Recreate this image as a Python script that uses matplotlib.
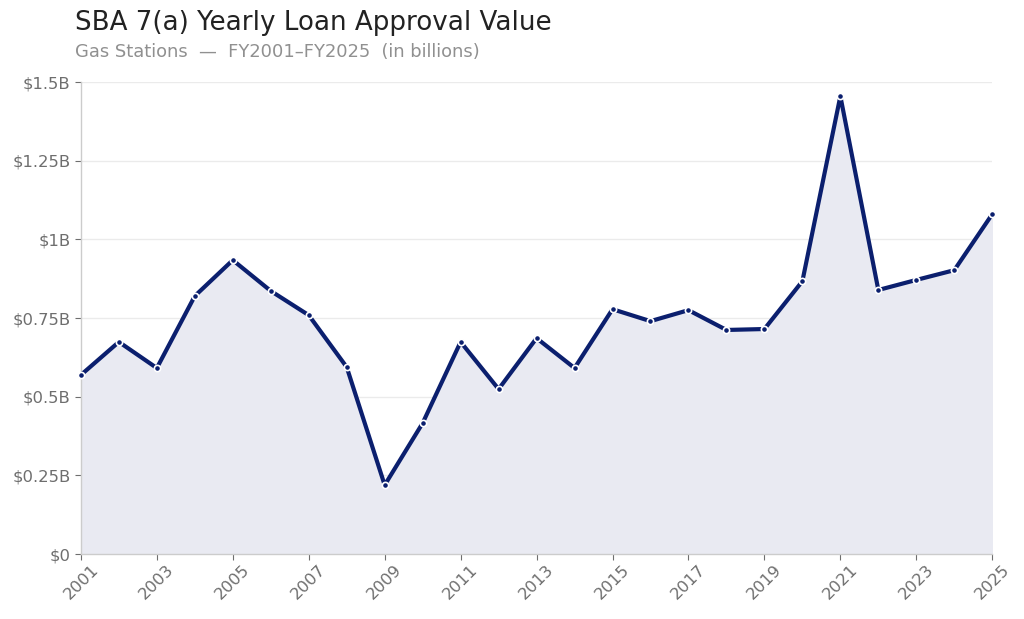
import matplotlib.pyplot as plt

# approval value per fiscal year, in billions of dollars
years = list(range(2001, 2026))
values = [0.569, 0.674, 0.591, 0.820, 0.934, 0.836, 0.759, 0.594, 0.219, 0.416,
          0.674, 0.524, 0.686, 0.591, 0.778, 0.740, 0.775, 0.712, 0.715, 0.867,
          1.455, 0.839, 0.871, 0.902, 1.080]

ytick_vals = [0, 0.25, 0.5, 0.75, 1.0, 1.25, 1.5]
ytick_labels = ["$0", "$0.25B", "$0.5B", "$0.75B", "$1B", "$1.25B", "$1.5B"]

navy = "#0b1f6e"

fig = plt.figure(figsize=(10.24, 6.19), dpi=100)
ax = fig.add_axes([0.079, 0.105, 0.89, 0.7625])

ax.fill_between(years, values, 0, color="#e9eaf2", zorder=1)
ax.plot(years, values, color=navy, lw=3, zorder=3,
        marker="o", markersize=4.5, markerfacecolor=navy,
        markeredgecolor="white", markeredgewidth=1.2, clip_on=False)

ax.set_xlim(2001, 2025)
ax.set_ylim(0, 1.5)
ax.set_xticks(years[::2])
ax.set_xticklabels([str(y) for y in years[::2]], rotation=45)
ax.set_yticks(ytick_vals)
ax.set_yticklabels(ytick_labels)

ax.grid(axis="y", color="#ebebeb", lw=1, zorder=0)
ax.set_axisbelow(True)
for s in ["top", "right"]:
    ax.spines[s].set_visible(False)
for s in ["left", "bottom"]:
    ax.spines[s].set_color("#cccccc")
    ax.spines[s].set_linewidth(1)
ax.tick_params(colors="#6e6e6e", labelsize=11.8, length=4)
ax.tick_params(axis="x", pad=2)

fig.text(0.073, 0.963, "SBA 7(a) Yearly Loan Approval Value", fontsize=18.8,
         color="#222222", va="center", ha="left")
fig.text(0.073, 0.916, "Gas Stations  \u2014  FY2001\u2013FY2025  (in billions)",
         fontsize=12.9, color="#909090", va="center", ha="left")

fig.savefig("out.png", dpi=100)
